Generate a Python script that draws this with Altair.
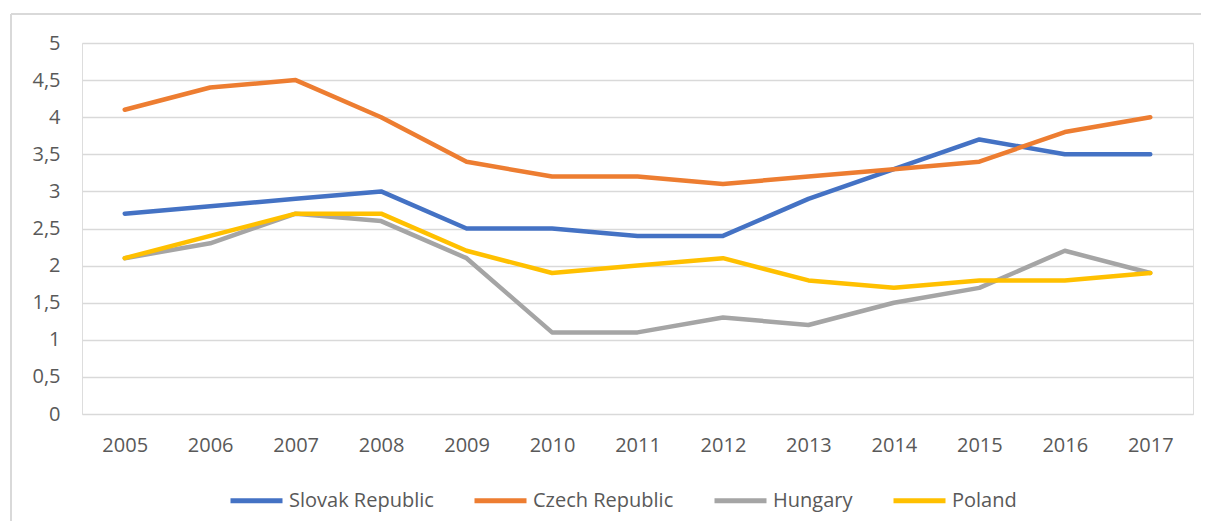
import altair as alt
import pandas as pd

years = [str(y) for y in range(2005, 2018)]
series_names = ["Slovak Republic", "Czech Republic", "Hungary", "Poland"]
slovak = [2.7, 2.8, 2.9, 3.0, 2.5, 2.5, 2.4, 2.4, 2.9, 3.3, 3.7, 3.5, 3.5]
czech = [4.1, 4.4, 4.5, 4.0, 3.4, 3.2, 3.2, 3.1, 3.2, 3.3, 3.4, 3.8, 4.0]
hungary = [2.1, 2.3, 2.7, 2.6, 2.1, 1.1, 1.1, 1.3, 1.2, 1.5, 1.7, 2.2, 1.9]
poland = [2.1, 2.4, 2.7, 2.7, 2.2, 1.9, 2.0, 2.1, 1.8, 1.7, 1.8, 1.8, 1.9]
colors = ["#4472C4", "#ED7D31", "#A5A5A5", "#FFC000"]
y_ticks = [0, 0.5, 1, 1.5, 2, 2.5, 3, 3.5, 4, 4.5, 5]

rows = []
for name, vals in zip(series_names, [slovak, czech, hungary, poland]):
    for yr, v in zip(years, vals):
        rows.append({"year": yr, "series": name, "value": v, "order": series_names.index(name)})
df = pd.DataFrame(rows)

FONT = "Open Sans"
TXT = "#595959"
W, H = 1111, 371

lines = alt.Chart(df).mark_line(strokeWidth=4.5, strokeCap="round", strokeJoin="round").encode(
    x=alt.X("year:O", sort=years, title=None,
            axis=alt.Axis(labelAngle=0, domain=False, ticks=False, grid=False,
                          labelPadding=21, labelFontSize=20, labelFont=FONT, labelColor=TXT)),
    y=alt.Y("value:Q", title=None,
            scale=alt.Scale(domain=[0, 5], nice=False, zero=True),
            axis=alt.Axis(values=y_ticks, domain=False, ticks=False, grid=True,
                          gridColor="#d9d9d9", gridWidth=1.5,
                          labelExpr="replace(format(datum.value, ''), '.', ',')",
                          labelPadding=22, labelFontSize=20, labelFont=FONT, labelColor=TXT)),
    color=alt.Color("series:N", sort=series_names, title=None,
                    scale=alt.Scale(domain=series_names, range=colors),
                    legend=alt.Legend(orient="none", legendX=146, legendY=429, direction="horizontal",
                                      symbolType="stroke", symbolSize=2704, symbolStrokeWidth=5,
                                      labelFontSize=20, labelFont=FONT, labelColor=TXT,
                                      labelOffset=4, columnPadding=30, padding=0)),
    order=alt.Order("order:Q"),
)

border_df = pd.DataFrame({"k": [0]})
top_border = alt.Chart(border_df).mark_rule(color="#d9d9d9", strokeWidth=2).encode(
    x=alt.value(-71), x2=alt.value(1119), y=alt.value(-29)
)
left_border = alt.Chart(border_df).mark_rule(color="#d9d9d9", strokeWidth=2).encode(
    x=alt.value(-71), y=alt.value(-29), y2=alt.value(478)
)

chart = alt.layer(top_border, left_border, lines).properties(
    width=W, height=H,
    autosize=alt.AutoSizeParams(type="none"),
    padding={"left": 74, "top": 35, "right": 8, "bottom": 107},
).configure_view(stroke=None).configure(background="white")

chart.save("out.html", embed_options={"renderer": "svg", "actions": False})
